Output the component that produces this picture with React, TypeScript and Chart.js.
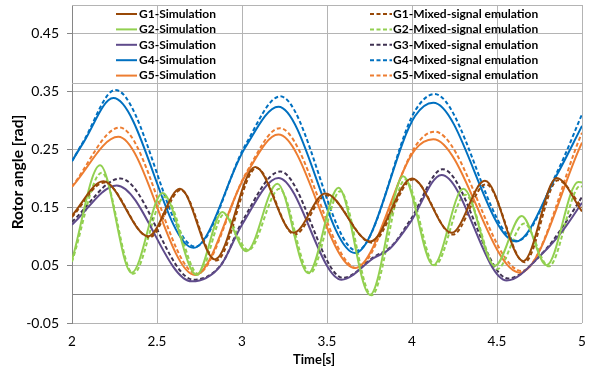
import { useEffect, useRef } from 'react';
import { Chart, registerables } from 'chart.js';

Chart.register(...registerables);

// ---- Data (time [s], rotor angle [rad]) ----
const g1SimT = [2, 2.184, 2.449, 2.635, 2.841, 3.078, 3.304, 3.49, 3.755, 4.0, 4.233, 4.429, 4.655, 4.851, 5];
const g1SimV = [0.136, 0.195, 0.1, 0.182, 0.06, 0.22, 0.106, 0.174, 0.091, 0.2, 0.106, 0.196, 0.057, 0.201, 0.143];
const g1EmuT = [2, 2.19, 2.455, 2.64, 2.848, 3.085, 3.31, 3.497, 3.762, 4.005, 4.24, 4.435, 4.662, 4.858, 5];
const g1EmuV = [0.133, 0.193, 0.098, 0.18, 0.058, 0.218, 0.103, 0.171, 0.089, 0.198, 0.103, 0.19, 0.055, 0.197, 0.15];

const g2SimT = [2, 2.165, 2.351, 2.533, 2.733, 2.884, 3.027, 3.208, 3.39, 3.567, 3.753, 3.949, 4.125, 4.302, 4.488, 4.645, 4.792, 4.978, 5];
const g2SimV = [0.059, 0.223, 0.037, 0.175, 0.033, 0.142, 0.074, 0.191, 0.036, 0.184, -0.001, 0.204, 0.05, 0.182, 0.049, 0.135, 0.05, 0.194, 0.193];
const g2EmuT = [2, 2.175, 2.36, 2.545, 2.745, 2.895, 3.037, 3.22, 3.4, 3.578, 3.762, 3.96, 4.135, 4.313, 4.5, 4.66, 4.805, 4.99, 5];
const g2EmuV = [0.056, 0.21, 0.035, 0.168, 0.034, 0.138, 0.076, 0.182, 0.036, 0.178, -0.002, 0.198, 0.05, 0.172, 0.043, 0.122, 0.048, 0.187, 0.186];

const g3SimT = [2, 2.263, 2.704, 2.871, 3.0, 3.214, 3.586, 3.773, 3.871, 3.988, 4.174, 4.557, 4.77, 4.89, 5];
const g3SimV = [0.12, 0.188, 0.022, 0.048, 0.12, 0.201, 0.025, 0.062, 0.079, 0.123, 0.206, 0.0235, 0.071, 0.111, 0.158];
const g3EmuT = [2, 2.285, 2.715, 2.88, 3.0, 3.225, 3.595, 3.78, 3.88, 3.99, 4.18, 4.565, 4.78, 4.89, 5];
const g3EmuV = [0.125, 0.2, 0.025, 0.052, 0.125, 0.212, 0.028, 0.065, 0.083, 0.128, 0.216, 0.027, 0.075, 0.118, 0.168];

const g4SimT = [2, 2.067, 2.243, 2.714, 3.018, 3.214, 3.665, 4.018, 4.125, 4.612, 4.85, 5];
const g4SimV = [0.23, 0.262, 0.339, 0.08, 0.253, 0.324, 0.071, 0.308, 0.331, 0.091, 0.205, 0.291];
const g4EmuT = [2, 2.067, 2.255, 2.725, 3.02, 3.225, 3.675, 4.02, 4.132, 4.62, 4.86, 5];
const g4EmuV = [0.23, 0.264, 0.353, 0.082, 0.258, 0.342, 0.075, 0.318, 0.346, 0.092, 0.215, 0.311];

const g5SimT = [2, 2.272, 2.724, 3.018, 3.214, 3.665, 4.018, 4.125, 4.635, 5];
const g5SimV = [0.1855, 0.272, 0.033, 0.204, 0.276, 0.045, 0.25, 0.268, 0.037, 0.262];
const g5EmuT = [2, 2.28, 2.735, 3.025, 3.222, 3.675, 4.025, 4.132, 4.645, 5];
const g5EmuV = [0.186, 0.288, 0.035, 0.21, 0.287, 0.045, 0.258, 0.281, 0.04, 0.279];

const simLabels = ['G1-Simulation', 'G2-Simulation', 'G3-Simulation', 'G4-Simulation', 'G5-Simulation'];
const emuLabels = [
  'G1-Mixed-signal emulation',
  'G2-Mixed-signal emulation',
  'G3-Mixed-signal emulation',
  'G4-Mixed-signal emulation',
  'G5-Mixed-signal emulation',
];
const simColors = ['#984807', '#92D050', '#5F4B8B', '#0070C0', '#ED7D31'];
const emuColors = ['#984807', '#92D050', '#3F3151', '#0070C0', '#ED7D31'];

const xTickValues = [2, 2.5, 3, 3.5, 4, 4.5, 5];
const xTickLabels = ['2', '2.5', '3', '3.5', '4', '4.5', '5'];
const yTickValues = [-0.05, 0, 0.05, 0.15, 0.25, 0.35, 0.45];
const yTickLabels = ['-0.05', '', '0.05', '0.15', '0.25', '0.35', '0.45'];

const xTitle = 'Time[s]';
const yTitle = 'Rotor angle [rad]';

const simData = [
  [g1SimT, g1SimV],
  [g2SimT, g2SimV],
  [g3SimT, g3SimV],
  [g4SimT, g4SimV],
  [g5SimT, g5SimV],
];
const emuData = [
  [g1EmuT, g1EmuV],
  [g2EmuT, g2EmuV],
  [g3EmuT, g3EmuV],
  [g4EmuT, g4EmuV],
  [g5EmuT, g5EmuV],
];

const zip = (t: number[], v: number[]) => t.map((x, i) => ({ x, y: v[i] }));

const FONT = 'Lato, "Noto Sans", sans-serif';
const GRID = '#B4B4B4';
const AXIS = '#868686';
const DASH = [4, 2.5];

const overlayPlugin = {
  id: 'overlay',
  afterDatasetsDraw(chart: any) {
    const { ctx, chartArea } = chart;
    const { left, right, top } = chartArea;
    ctx.save();
    ctx.lineWidth = 1;
    ctx.strokeStyle = GRID;
    ctx.beginPath();
    ctx.moveTo(left, Math.round(top) + 0.5);
    ctx.lineTo(right, Math.round(top) + 0.5);
    const legBottom = Math.round(top + 78) + 0.5;
    ctx.moveTo(left, legBottom);
    ctx.lineTo(right, legBottom);
    ctx.stroke();

    ctx.font = `bold 12px ${FONT}`;
    ctx.textBaseline = 'middle';
    ctx.textAlign = 'left';
    for (let i = 0; i < 5; i++) {
      const y = top + 9 + i * 15.4;
      // left column (simulation, solid)
      ctx.setLineDash([]);
      ctx.lineWidth = 2;
      ctx.strokeStyle = simColors[i];
      ctx.beginPath();
      ctx.moveTo(116, y);
      ctx.lineTo(137, y);
      ctx.stroke();
      ctx.fillStyle = '#000';
      ctx.fillText(simLabels[i], 139, y);
      // right column (emulation, dashed)
      ctx.setLineDash(DASH);
      ctx.strokeStyle = emuColors[i];
      ctx.beginPath();
      ctx.moveTo(370, y);
      ctx.lineTo(392, y);
      ctx.stroke();
      ctx.fillText(emuLabels[i], 393, y);
    }
    ctx.setLineDash([]);

    // axis titles
    ctx.fillStyle = '#000';
    ctx.font = `bold 13px ${FONT}`;
    ctx.textAlign = 'center';
    ctx.textBaseline = 'middle';
    ctx.fillText(xTitle, 314, 360);
    ctx.font = `bold 15.5px ${FONT}`;
    ctx.translate(18, 172);
    ctx.rotate(-Math.PI / 2);
    ctx.fillText(yTitle, 0, 0);
    ctx.restore();
  },
};

export default function App() {
  const ref = useRef<HTMLCanvasElement | null>(null);
  useEffect(() => {
    document.body.style.margin = '0';
    const canvas = ref.current;
    if (!canvas) return;
    const datasets: any[] = [];
    for (let i = 0; i < 5; i++) {
      datasets.push({
        label: simLabels[i],
        data: zip(simData[i][0], simData[i][1]),
        borderColor: simColors[i],
        backgroundColor: simColors[i],
        borderWidth: 2,
        pointRadius: 0,
        cubicInterpolationMode: 'monotone',
        fill: false,
      });
    }
    for (let i = 0; i < 5; i++) {
      datasets.push({
        label: emuLabels[i],
        data: zip(emuData[i][0], emuData[i][1]),
        borderColor: emuColors[i],
        backgroundColor: emuColors[i],
        borderWidth: 2,
        borderDash: DASH,
        pointRadius: 0,
        cubicInterpolationMode: 'monotone',
        fill: false,
      });
    }
    const chart = new Chart(canvas, {
      type: 'line',
      data: { datasets },
      options: {
        responsive: false,
        animation: false,
        devicePixelRatio: 1,
        layout: { padding: { left: 0, top: 5, right: 14, bottom: 0 } },
        plugins: { legend: { display: false }, tooltip: { enabled: false } },
        scales: {
          x: {
            type: 'linear',
            min: 2,
            max: 5,
            afterBuildTicks: (s: any) => {
              s.ticks = xTickValues.map((v) => ({ value: v }));
            },
            afterFit: (s: any) => {
              s.height = 48;
              s.paddingLeft = 0;
              s.paddingRight = 0;
            },
            ticks: {
              autoSkip: false,
              maxRotation: 0,
              padding: 11,
              color: '#000',
              font: { family: FONT, size: 13.5 },
              callback: (v: any) => {
                const i = xTickValues.indexOf(Number(v));
                return i >= 0 ? xTickLabels[i] : '';
              },
            },
            grid: { color: GRID, drawTicks: false, lineWidth: 1 },
            border: { display: false },
          },
          y: {
            type: 'linear',
            min: -0.05,
            max: 0.5,
            afterBuildTicks: (s: any) => {
              s.ticks = yTickValues.map((v) => ({ value: v }));
            },
            afterFit: (s: any) => {
              s.width = 72;
              s.paddingTop = 0;
              s.paddingBottom = 0;
            },
            ticks: {
              autoSkip: false,
              padding: 8,
              color: '#000',
              font: { family: FONT, size: 14 },
              callback: (v: any) => {
                const i = yTickValues.findIndex((t) => Math.abs(t - Number(v)) < 1e-9);
                return i >= 0 ? yTickLabels[i] : '';
              },
            },
            grid: {
              color: (c: any) => (c.tick && Math.abs(c.tick.value) < 1e-9 ? AXIS : GRID),
              tickColor: (c: any) => (c.tick && Math.abs(c.tick.value) < 1e-9 ? 'rgba(0,0,0,0)' : AXIS),
              tickLength: 5,
              drawTicks: true,
              lineWidth: 1,
            },
            border: { display: true, color: AXIS, width: 1 },
          },
        },
      },
      plugins: [overlayPlugin],
    });
    return () => chart.destroy();
  }, []);
  return (
    <div style={{ width: 596, height: 371, background: '#fff' }}>
      <canvas ref={ref} width={596} height={371} style={{ display: 'block' }} />
    </div>
  );
}
